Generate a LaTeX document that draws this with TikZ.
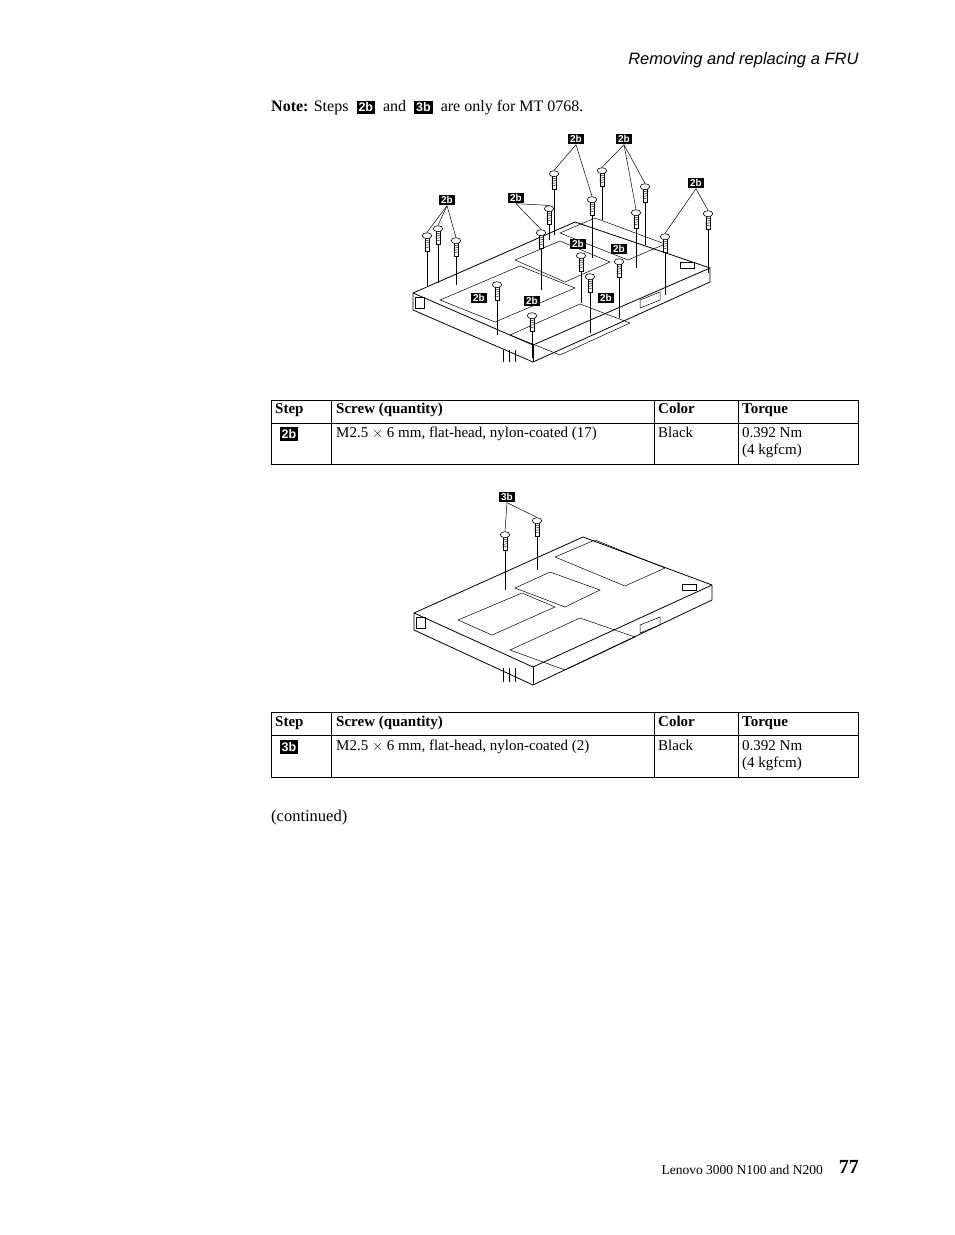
\documentclass[tikz,border=0pt]{standalone}
\usepackage{fontspec}
\setmainfont{Liberation Serif}
\setsansfont{Liberation Sans}
\usetikzlibrary{positioning,shapes.geometric}

\tikzset{
  tag/.style={fill=black,text=white,font=\sffamily\bfseries\fontsize{10}{11}\selectfont,inner sep=1.8pt},
  bigtag/.style={tag,font=\sffamily\bfseries\fontsize{12.5}{13}\selectfont,inner sep=2pt},
  shank/.style={draw,fill=white,line width=0.6pt,inner sep=0pt,minimum width=4.2pt,minimum height=14pt},
  head/.style={draw,fill=white,line width=0.6pt,ellipse,inner sep=0pt,minimum width=9.5pt,minimum height=6pt},
  leader/.style={line width=0.5pt},
  body/.style={line width=0.8pt,line join=round},
  bay/.style={line width=0.5pt},
  cell/.style={anchor=north west,font=\fontsize{15}{17}\selectfont,align=left,inner sep=0pt},
  hcell/.style={cell,font=\bfseries\fontsize{15}{17}\selectfont}
}
% screw: name, x, y, y of hole
\newcommand{\screwat}[4]{%
  \node[shank] (#1) at (#2,#3) {};
  \foreach \k in {1,...,4}{\draw[line width=0.4pt] ([yshift=-2pt-2.3pt*\k]#1.north west) -- ([yshift=-1pt-2.3pt*\k]#1.north east);}
  \node[head] (#1h) at ([yshift=1pt]#1.north) {};
  \coordinate (#1-hole) at (#2,#4);
  \draw[leader] (#1.south) -- (#1-hole);
}

\begin{document}
\begin{tikzpicture}[x=1pt,y=-1pt]
\useasboundingbox (0,0) rectangle (954,1235);

% header
\node[anchor=east,font=\sffamily\itshape\fontsize{16.5}{18}\selectfont] (title) at (862,60) {Removing and replacing a FRU};
\node[anchor=west,font=\fontsize{16}{18}\selectfont,inner sep=0pt] (note) at (271,108)
  {\textbf{Note:} Steps \ \tikz[baseline=(t.base)]\node[bigtag] (t) {2b};\ \ and \ \tikz[baseline=(t.base)]\node[bigtag] (t) {3b};\ \ are only for MT 0768.};

% ---- top laptop
\draw[body,fill=white] (413,293) -- (575,222) -- (710,268) -- (533,345) -- cycle;
\draw[body] (413,293) -- (413,310) -- (533,362) -- (710,282) -- (710,268);
\draw[body] (533,345) -- (533,362);
\draw[bay] (440,300) -- (520,266) -- (575,288) -- (495,322) -- cycle;
\draw[bay] (515,260) -- (560,241) -- (610,262) -- (565,282) -- cycle;
\draw[bay] (560,233) -- (595,218) -- (665,244) -- (628,260) -- cycle;
\draw[bay] (510,335) -- (580,304) -- (630,323) -- (560,355) -- cycle;
\draw[bay] (680,262) rectangle (694,268);
\draw[bay] (415,297) rectangle (424,308);
\foreach \x in {503,509,515}{\draw[bay] (\x,350) -- (\x,362);}
\draw[bay] (640,300) -- (660,292) -- (660,300) -- (640,308) -- cycle;

\screwat{s1}{427}{244}{287}
\screwat{s2}{438}{237}{283}
\screwat{s3}{456}{249}{285}
\screwat{s4}{554}{182}{235}
\screwat{s5}{549}{217}{240}
\screwat{s6}{541}{241}{290}
\screwat{s7}{592}{208}{258}
\screwat{s8}{602}{179}{220}
\screwat{s9}{645}{195}{245}
\screwat{s10}{636}{221}{268}
\screwat{s11}{708}{222}{273}
\screwat{s12}{665}{245}{295}
\screwat{s13}{619}{270}{318}
\screwat{s14}{590}{285}{333}
\screwat{s15}{581}{264}{303}
\screwat{s16}{497}{293}{335}
\screwat{s17}{532}{324}{358}

\node[tag] (ta) at (576,139) {2b};
\node[tag] (tb) at (624,139) {2b};
\node[tag] (tc) at (696,183) {2b};
\node[tag] (td) at (447,200) {2b};
\node[tag] (te) at (516,198) {2b};
\node[tag] (tf) at (578,244) {2b};
\node[tag] (tg) at (619,249) {2b};
\node[tag] (th) at (479,298) {2b};
\node[tag] (ti) at (532,301) {2b};
\node[tag] (tj) at (606,298) {2b};
\foreach \s in {s4,s7}{\draw[leader] (ta.south) -- (\s h.north);}
\foreach \s in {s8,s9,s10}{\draw[leader] (tb.south) -- (\s h.north);}
\foreach \s in {s11,s12}{\draw[leader] (tc.south) -- (\s h.north);}
\foreach \s in {s1,s2,s3}{\draw[leader] (td.south) -- (\s h.north);}
\foreach \s in {s5,s6}{\draw[leader] (te.south) -- (\s h.north);}

% ---- table 1
\draw[line width=0.6pt] (271,400) rectangle (858,464);
\draw[line width=0.6pt] (271,423) -- (858,423);
\foreach \x in {331,654,738}{\draw[line width=0.6pt] (\x,400) -- (\x,464);}
\node[hcell] (h1a) at (275,403) {Step};
\node[hcell] (h1b) at (336,403) {Screw (quantity)};
\node[hcell] (h1c) at (658,403) {Color};
\node[hcell] (h1d) at (742,403) {Torque};
\node[bigtag] (r1a) at (289,434) {2b};
\node[cell] (r1b) at (336,427) {M2.5 $\times$ 6 mm, flat-head, nylon-coated (17)};
\node[cell] (r1c) at (658,427) {Black};
\node[cell] (r1d) at (742,427) {0.392 Nm\\(4 kgfcm)};

% ---- bottom laptop
\draw[body,fill=white] (414,613) -- (583,537) -- (712,585) -- (533,667) -- cycle;
\draw[body] (414,613) -- (414,630) -- (533,685) -- (712,600) -- (712,585);
\draw[body] (533,667) -- (533,685);
\draw[bay] (458,620) -- (522,593) -- (555,607) -- (492,635) -- cycle;
\draw[bay] (515,588) -- (550,572) -- (600,590) -- (565,607) -- cycle;
\draw[bay] (555,557) -- (595,540) -- (665,568) -- (625,586) -- cycle;
\draw[bay] (510,650) -- (580,618) -- (635,637) -- (565,670) -- cycle;
\draw[bay] (682,584) rectangle (696,590);
\draw[bay] (416,617) rectangle (425,628);
\foreach \x in {503,509,515}{\draw[bay] (\x,668) -- (\x,682);}
\draw[bay] (640,625) -- (660,617) -- (660,625) -- (640,633) -- cycle;

\screwat{s18}{505}{543}{590}
\screwat{s19}{537}{529}{570}
\node[tag] (tk) at (507,497) {3b};
\foreach \s in {s18,s19}{\draw[leader] (tk.south) -- (\s h.north);}

% ---- table 2
\draw[line width=0.6pt] (271,712) rectangle (858,777);
\draw[line width=0.6pt] (271,735) -- (858,735);
\foreach \x in {331,654,738}{\draw[line width=0.6pt] (\x,712) -- (\x,777);}
\node[hcell] (h2a) at (275,716) {Step};
\node[hcell] (h2b) at (336,716) {Screw (quantity)};
\node[hcell] (h2c) at (658,716) {Color};
\node[hcell] (h2d) at (742,716) {Torque};
\node[bigtag] (r2a) at (289,747) {3b};
\node[cell] (r2b) at (336,740) {M2.5 $\times$ 6 mm, flat-head, nylon-coated (2)};
\node[cell] (r2c) at (658,740) {Black};
\node[cell] (r2d) at (742,740) {0.392 Nm\\(4 kgfcm)};

\node[anchor=west,font=\fontsize{16.5}{18}\selectfont,inner sep=0pt] (cont) at (271,818) {(continued)};

% footer
\node[anchor=east,font=\fontsize{13.5}{15}\selectfont,inner sep=0pt] (foot) at (823,1170) {Lenovo 3000 N100 and N200};
\node[anchor=east,font=\bfseries\fontsize{20}{22}\selectfont,inner sep=0pt] (page) at (859,1167) {77};
\end{tikzpicture}
\end{document}
